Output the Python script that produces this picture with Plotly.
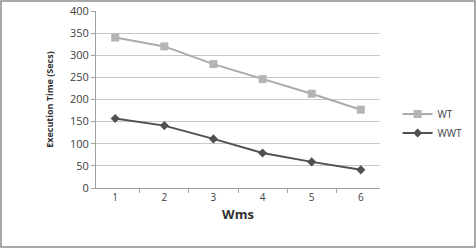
import plotly.graph_objects as go

categories = ["1", "2", "3", "4", "5", "6"]
wt = [340, 320, 280, 246, 213, 177]
wwt = [157, 141, 111, 79, 59, 41]
y_ticks = [0, 50, 100, 150, 200, 250, 300, 350, 400]

FONT = "Open Sans, Liberation Sans, sans-serif"

fig = go.Figure()
fig.add_trace(go.Scatter(
    x=categories, y=wt, name="WT", mode="lines+markers",
    line=dict(color="#ababab", width=2),
    marker=dict(symbol="square", size=8, color="#b4b4b4"),
))
fig.add_trace(go.Scatter(
    x=categories, y=wwt, name="WWT", mode="lines+markers",
    line=dict(color="#505050", width=2),
    marker=dict(symbol="diamond", size=7, color="#505050"),
))

fig.update_layout(
    width=476, height=249,
    margin=dict(l=96, r=96, t=11, b=61, autoexpand=False),
    paper_bgcolor="white", plot_bgcolor="white",
    font=dict(family=FONT, size=11, color="#404040"),
    showlegend=True,
    legend=dict(x=1.062, y=0.50, xanchor="left", yanchor="top",
                font=dict(size=10, color="#404040"),
                bgcolor="rgba(0,0,0,0)", itemwidth=30, tracegroupgap=2),
    xaxis=dict(
        type="category", tickson="boundaries", ticks="outside", ticklen=4,
        tickcolor="#a0a0a0", showline=True, linecolor="#a0a0a0", linewidth=1,
        showgrid=False, zeroline=False,
        title=dict(text="<b>Wms</b>", font=dict(size=13, color="#303030"), standoff=6),
        tickfont=dict(size=10, color="#404040"),
    ),
    yaxis=dict(
        range=[0, 400], tickvals=y_ticks, ticks="outside", ticklen=4,
        tickcolor="#a0a0a0", showline=True, linecolor="#a0a0a0", linewidth=1,
        showgrid=True, gridcolor="#c8c8c8", gridwidth=1, zeroline=False,
        title=dict(text="<b>Execution Time (Secs)</b>", font=dict(size=9, color="#303030"), standoff=14),
        tickfont=dict(size=11, color="#404040"),
    ),
)

# outer border of the chart area
fig.add_shape(type="rect", xref="paper", yref="paper",
              x0=-95/284, x1=1 + 95/284, y0=-59/177, y1=1 + 10/177,
              line=dict(color="#8c8c8c", width=1.5), layer="below")

fig.write_html("out.html", config={"displayModeBar": False},
               post_script="document.body.style.margin='0';")
